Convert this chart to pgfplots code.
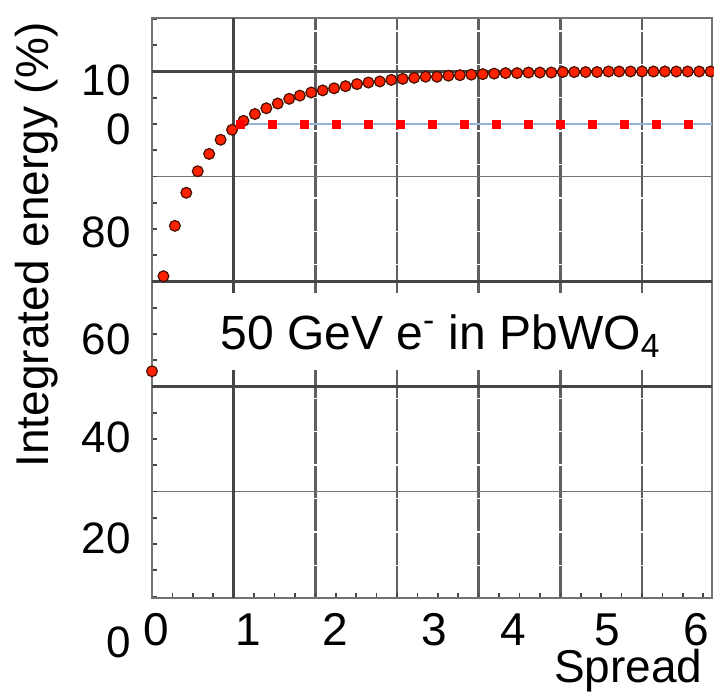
\documentclass[border=0pt]{standalone}
\usepackage{fontspec}
\setmainfont{Liberation Sans}
\usepackage{pgfplots}
\pgfplotsset{compat=1.18}
\definecolor{dotred}{RGB}{255,34,0}
\definecolor{dotedge}{RGB}{70,15,0}
\definecolor{linblue}{RGB}{150,180,215}
\definecolor{gridd}{RGB}{70,70,70}
\definecolor{gridm}{RGB}{95,95,95}
\definecolor{gridl}{RGB}{115,115,115}

\begin{document}
\begin{tikzpicture}
\useasboundingbox (-76pt,-47pt) rectangle (281pt,299pt);
\begin{axis}[
  at={(0,0)}, anchor=south west,
  scale only axis, width=280pt, height=290pt,
  xmin=0, xmax=6.857, ymin=9.71, ymax=120.19,
  clip mode=individual,
  axis line style={draw=gridl, line width=1.2pt},
  xtick={1,2,3,4,5,6}, xticklabels={},
  ytick={30,50,70,90,110}, yticklabels={},
  minor xtick={0.25,0.5,...,6.75},
  minor ytick={10,15,...,120},
  tick align=inside, xtick pos=bottom, ytick pos=left,
  major tick length=2.5pt, minor tick length=2.5pt,
  tick style={draw=gridd, line width=0.8pt},
  xmajorgrids, ymajorgrids,
  x grid style={draw=gridm, line width=1.4pt, dash pattern=on 16pt off 0.7pt},
  y grid style={draw=gridl, line width=0.9pt},
  extra x ticks={0.058,1.175,2.240,3.453,4.426,5.571,6.660},
  extra x tick labels={0,1,2,3,4,5,6},
  extra y ticks={21,40.3,59,79.4,99,108.4},
  extra y tick labels={20,40,60,80,0,10},
  extra tick style={grid=none, major tick length=0pt},
  xticklabel style={font=\fontsize{23}{23}\selectfont, anchor=base, inner sep=0pt, yshift=-23.5pt},
  yticklabel style={font=\fontsize{22}{22}\selectfont, anchor=east, inner sep=0pt, xshift=-10.5pt},
]
% heavier grid lines
\draw[draw=gridd, line width=1.2pt] (axis cs:1,9.71) -- (axis cs:1,120.19);
\draw[draw=gridd, line width=1.1pt] (axis cs:0,110) -- (axis cs:6.857,110);
\draw[draw=gridd, line width=1.1pt] (axis cs:0,70) -- (axis cs:6.857,70);
\draw[draw=gridd, line width=1.1pt] (axis cs:0,50) -- (axis cs:6.857,50);
% white band behind the caption
\fill[white] (axis cs:0.07,53.1) rectangle (axis cs:6.83,67.8);

\addplot[linblue, line width=0.8pt] coordinates {(1.078,100) (6.857,100)};

\addplot[only marks, mark=*, mark size=2.7pt,
  mark options={fill=dotred, draw=dotedge, line width=0.6pt}] coordinates {
  (0.00,52.9) (0.14,71.0) (0.28,80.6) (0.42,86.9) (0.56,91.0)
  (0.70,94.3) (0.84,97.0) (0.98,98.9) (1.12,100.6) (1.26,101.9)
  (1.40,103.0) (1.54,103.9) (1.68,104.8) (1.81,105.4) (1.95,106.0)
  (2.09,106.4) (2.23,106.8) (2.37,107.2) (2.51,107.6) (2.65,107.9)
  (2.79,108.1) (2.93,108.4) (3.07,108.6) (3.21,108.8) (3.35,109.0)
  (3.49,109.0) (3.63,109.2) (3.77,109.3) (3.91,109.4) (4.05,109.5)
  (4.19,109.6) (4.33,109.7) (4.47,109.7) (4.61,109.8) (4.75,109.8)
  (4.89,109.8) (5.03,109.9) (5.17,109.9) (5.31,109.9) (5.45,109.9)
  (5.59,110.0) (5.72,110.0) (5.86,110.0) (6.00,110.0) (6.14,110.0)
  (6.28,110.0) (6.42,110.0) (6.56,110.0) (6.70,110.0) (6.84,110.0)
};

\addplot[only marks, mark=square*, mark size=2pt, color=red] coordinates {
  (1.078,100) (1.469,100) (1.861,100) (2.253,100) (2.645,100)
  (3.037,100) (3.429,100) (3.820,100) (4.212,100) (4.604,100)
  (4.996,100) (5.388,100) (5.779,100) (6.171,100) (6.563,100)
};
\end{axis}
\node[rotate=90, anchor=base, inner sep=0pt, font=\fontsize{23}{23}\selectfont]
  at (-51.5pt,176.5pt) {Integrated energy (\%)};
\node[anchor=base east, inner sep=0pt, font=\fontsize{23}{23}\selectfont]
  at (275.5pt,-42pt) {Spread};
\node[anchor=east, inner sep=0pt, font=\fontsize{22}{22}\selectfont]
  at (-10.5pt,-22pt) {0};
\node[anchor=base west, inner sep=0pt, font=\fontsize{24}{24}\selectfont]
  at (34pt,124pt) {50 GeV e\textsuperscript{-} in PbWO\textsubscript{4}};
\end{tikzpicture}
\end{document}
